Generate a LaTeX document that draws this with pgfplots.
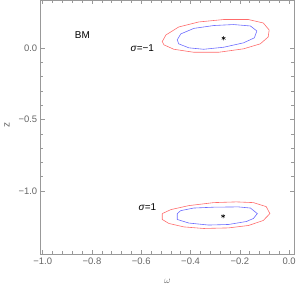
\documentclass[border=0pt]{standalone}
\usepackage{pgfplots}
\pgfplotsset{compat=1.18}
\usepackage{fontspec}
\setmainfont{Liberation Sans}
\definecolor{cred}{rgb}{1,0.42,0.42}
\definecolor{cblue}{rgb}{0.42,0.42,1}
\definecolor{tickgray}{rgb}{0.4,0.4,0.4}
\definecolor{axgray}{rgb}{0.6,0.6,0.6}
\begin{document}
\begin{tikzpicture}
\begin{axis}[
  scale only axis,
  width=254.7pt, height=255.3pt,
  xmin=-1.008, xmax=0.019,
  ymin=-1.44, ymax=0.335,
  xtick={-1,-0.8,-0.6,-0.4,-0.2,0},
  xticklabels={−1.0,−0.8,−0.6,−0.4,−0.2,0.0},
  ytick={-1,-0.5,0},
  yticklabels={−1.0,−0.5,0.0},
  minor x tick num=4,
  minor y tick num=4,
  tick align=inside,
  major tick length=4pt,
  minor tick length=2.5pt,
  axis line style={axgray, line width=0.5pt},
  every tick/.style={axgray, line width=0.5pt},
  tick label style={font=\fontsize{9.5}{11}\selectfont, text=tickgray},
  xlabel={$\omega$},
  ylabel={z},
  label style={font=\fontsize{10}{11}\selectfont, text=tickgray},
  xlabel style={at={(axis description cs:0.5,-0.108)}, anchor=center},
  ylabel style={at={(axis description cs:-0.133,0.51)}, anchor=center},
  clip=false,
]
% sigma = -1, outer (red)
\addplot[cred, line width=0.6pt] coordinates {
(-0.515,0.046) (-0.500,0.092) (-0.448,0.148) (-0.367,0.183) (-0.266,0.200)
(-0.165,0.200) (-0.105,0.176) (-0.081,0.127) (-0.085,0.078) (-0.117,0.030)
(-0.185,-0.005) (-0.286,-0.029) (-0.387,-0.029) (-0.468,-0.008) (-0.508,0.023)
(-0.515,0.046)};
% sigma = -1, inner (blue)
\addplot[cblue, line width=0.6pt] coordinates {
(-0.454,0.058) (-0.440,0.099) (-0.387,0.138) (-0.306,0.158) (-0.226,0.165)
(-0.157,0.155) (-0.131,0.120) (-0.141,0.072) (-0.185,0.037) (-0.266,0.006)
(-0.347,-0.008) (-0.407,0.002) (-0.448,0.030) (-0.454,0.058)};
% sigma = 1, outer (red)
\addplot[cred, line width=0.6pt] coordinates {
(-0.515,-1.158) (-0.515,-1.199) (-0.488,-1.227) (-0.427,-1.251) (-0.347,-1.262)
(-0.246,-1.258) (-0.165,-1.241) (-0.105,-1.206) (-0.078,-1.158) (-0.093,-1.109)
(-0.145,-1.081) (-0.214,-1.076) (-0.306,-1.081) (-0.407,-1.102) (-0.480,-1.130)
(-0.515,-1.158)};
% sigma = 1, inner (blue)
\addplot[cblue, line width=0.6pt] coordinates {
(-0.454,-1.158) (-0.454,-1.199) (-0.407,-1.224) (-0.327,-1.238) (-0.246,-1.234)
(-0.173,-1.213) (-0.145,-1.192) (-0.129,-1.158) (-0.157,-1.119) (-0.206,-1.111)
(-0.306,-1.113) (-0.387,-1.119) (-0.440,-1.137) (-0.454,-1.158)};
% best fit points
\addplot[only marks, mark=asterisk, mark size=2.2pt, black, mark options={line width=0.5pt}] coordinates {
(-0.266,0.069) (-0.268,-1.176)};
\node[font=\fontsize{10}{11}\selectfont] at (axis cs:-0.839,0.092) {BM};
\node[font=\fontsize{10}{11}\selectfont] at (axis cs:-0.596,0.0) {\textit{σ}=−1};
\node[font=\fontsize{10}{11}\selectfont] at (axis cs:-0.575,-1.111) {\textit{σ}=1};
\end{axis}
\path (current axis.south west) ++(-41pt,-33.7pt) coordinate (bbl);
\path (current axis.north east) ++(3.3pt,0pt) coordinate (bbr);
\useasboundingbox (bbl) rectangle (bbr);
\end{tikzpicture}
\end{document}
